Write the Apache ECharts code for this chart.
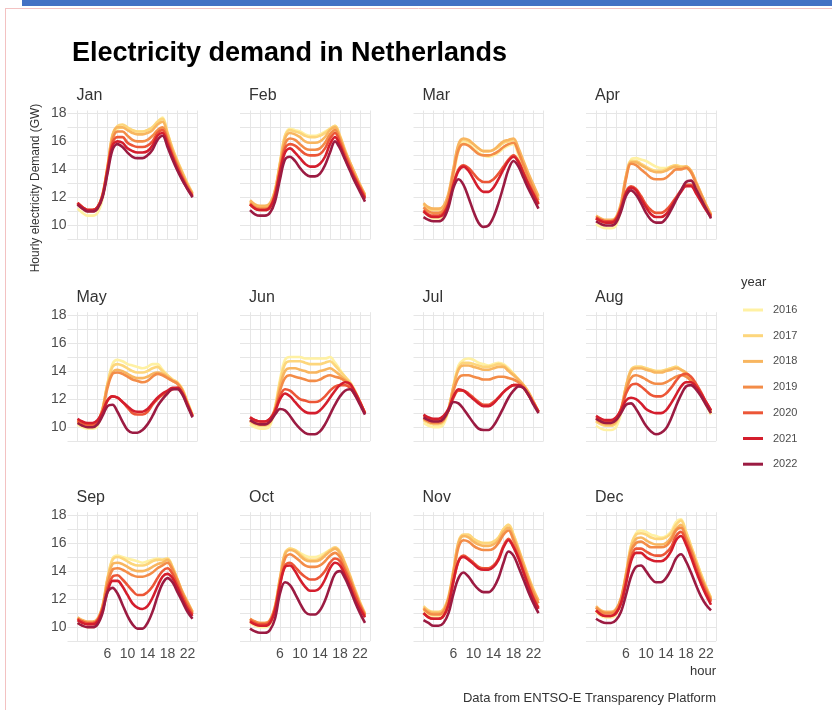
<!DOCTYPE html>
<html>
<head>
<meta charset="utf-8">
<script src="https://cdn.jsdelivr.net/npm/echarts@6/dist/echarts.min.js"></script>
<style>
  html, body { margin: 0; padding: 0; background: #ffffff; }
  #chart { width: 832px; height: 710px; }
</style>
</head>
<body>
<div id="chart"></div>
<script>
// Hourly electricity demand (GW), one row per year 2016..2022, columns = hour 0..23
const hours = [0,1,2,3,4,5,6,7,8,9,10,11,12,13,14,15,16,17,18,19,20,21,22,23];
const years = ['2016','2017','2018','2019','2020','2021','2022'];
const months = ['Jan','Feb','Mar','Apr','May','Jun','Jul','Aug','Sep','Oct','Nov','Dec'];
const hourTicks = [6,10,14,18,22];
const demandTicks = [10,12,14,16,18];

const jan = [
  [11.2,10.9,10.7,10.7,10.9,11.9,14.0,16.3,16.9,17.0,16.9,16.8,16.7,16.7,16.8,17.0,17.4,17.7,16.6,15.5,14.6,13.7,12.9,12.1],
  [11.5,11.2,11.0,11.0,11.2,12.1,14.2,16.5,17.1,17.2,17.0,16.8,16.7,16.7,16.8,17.0,17.4,17.6,16.6,15.5,14.6,13.8,13.0,12.3],
  [11.6,11.3,11.1,11.1,11.3,12.2,14.2,16.4,17.0,17.0,16.8,16.6,16.5,16.5,16.6,16.8,17.2,17.4,16.5,15.4,14.5,13.7,12.9,12.3],
  [11.6,11.3,11.1,11.1,11.3,12.2,14.1,16.1,16.7,16.7,16.4,16.1,16.0,16.0,16.1,16.4,16.8,17.0,16.2,15.2,14.3,13.5,12.8,12.2],
  [11.6,11.3,11.1,11.1,11.3,12.1,14.0,15.9,16.3,16.3,15.9,15.7,15.6,15.6,15.7,16.0,16.6,16.8,16.0,15.0,14.2,13.4,12.7,12.1],
  [11.6,11.3,11.1,11.1,11.3,12.1,13.9,15.7,16.0,15.9,15.5,15.3,15.2,15.2,15.3,15.7,16.4,16.6,15.8,14.9,14.0,13.3,12.6,12.1],
  [11.5,11.2,11.0,11.0,11.2,12.0,13.7,15.4,15.8,15.6,15.2,14.9,14.8,14.8,15.0,15.4,16.1,16.4,15.6,14.7,13.9,13.2,12.6,12.0]
];
const feb = [
  [11.5,11.2,11.1,11.1,11.3,12.3,14.4,16.4,16.9,16.8,16.7,16.5,16.4,16.4,16.5,16.7,16.9,17.1,16.3,15.3,14.4,13.6,12.8,12.0],
  [11.7,11.4,11.3,11.3,11.5,12.5,14.5,16.4,16.8,16.7,16.6,16.4,16.3,16.3,16.4,16.6,16.9,17.1,16.4,15.4,14.5,13.7,12.9,12.2],
  [11.8,11.5,11.4,11.4,11.6,12.5,14.4,16.2,16.6,16.5,16.3,16.0,15.9,15.9,16.0,16.3,16.8,17.0,16.3,15.3,14.5,13.7,12.9,12.2],
  [11.6,11.3,11.2,11.2,11.4,12.3,14.1,15.8,16.2,16.1,15.8,15.5,15.4,15.4,15.5,15.9,16.5,16.8,16.1,15.2,14.3,13.5,12.8,12.1],
  [11.5,11.2,11.1,11.1,11.3,12.2,13.9,15.5,15.8,15.7,15.4,15.1,15.0,15.0,15.1,15.5,16.2,16.6,15.9,15.0,14.2,13.4,12.7,12.0],
  [11.5,11.2,11.1,11.1,11.3,12.1,13.8,15.2,15.5,15.2,14.8,14.4,14.2,14.2,14.4,14.9,15.8,16.3,15.7,14.8,14.0,13.3,12.6,11.9],
  [11.1,10.8,10.7,10.7,10.9,11.7,13.3,14.7,14.9,14.6,14.1,13.7,13.5,13.5,13.7,14.3,15.2,16.0,15.5,14.7,13.9,13.1,12.4,11.7]
];
const mar = [
  [11.0,10.7,10.5,10.5,10.7,11.6,13.5,15.3,15.9,15.8,15.5,15.2,15.0,14.9,15.0,15.2,15.5,15.7,15.8,15.0,14.0,13.1,12.3,11.5],
  [11.5,11.2,11.1,11.1,11.3,12.2,14.0,15.7,16.1,16.0,15.8,15.5,15.3,15.3,15.4,15.6,15.9,16.0,16.1,15.4,14.5,13.6,12.8,12.0],
  [11.6,11.3,11.2,11.2,11.4,12.3,14.1,15.8,16.2,16.1,15.8,15.5,15.3,15.3,15.4,15.7,16.0,16.1,16.2,15.5,14.6,13.7,12.9,12.1],
  [11.3,11.0,10.9,10.9,11.1,12.0,13.8,15.4,15.8,15.7,15.4,15.1,15.0,15.0,15.1,15.3,15.6,15.8,15.9,15.2,14.3,13.4,12.6,11.8],
  [11.1,10.8,10.7,10.7,10.9,11.6,13.0,14.0,14.3,14.1,13.7,13.3,13.1,13.1,13.3,13.7,14.2,14.7,15.0,14.6,13.8,13.0,12.3,11.6],
  [11.0,10.7,10.6,10.6,10.8,11.5,12.9,13.9,14.2,13.9,13.3,12.7,12.4,12.4,12.7,13.3,14.0,14.6,14.9,14.5,13.7,12.9,12.2,11.5],
  [10.6,10.4,10.3,10.3,10.5,11.3,12.7,13.3,12.9,12.0,11.0,10.2,9.9,10.0,10.6,11.6,12.8,14.0,14.6,14.2,13.4,12.6,11.9,11.2]
];
const apr = [
  [10.1,9.9,9.8,9.8,10.0,11.2,13.4,14.7,14.8,14.7,14.6,14.4,14.2,14.1,14.1,14.2,14.3,14.2,14.1,13.8,13.1,12.2,11.4,10.6],
  [10.5,10.3,10.2,10.2,10.4,11.5,13.5,14.6,14.6,14.4,14.2,14.0,13.9,13.9,14.0,14.2,14.3,14.2,14.2,13.9,13.1,12.3,11.5,10.8],
  [10.7,10.5,10.4,10.4,10.6,11.6,13.5,14.5,14.5,14.3,14.1,13.9,13.8,13.8,13.9,14.1,14.2,14.1,14.2,13.9,13.1,12.3,11.5,10.8],
  [10.5,10.3,10.2,10.2,10.4,11.4,13.3,14.4,14.3,14.0,13.7,13.4,13.3,13.3,13.4,13.7,14.0,14.0,14.1,13.8,13.0,12.2,11.4,10.7],
  [10.6,10.4,10.3,10.3,10.5,11.3,12.4,12.8,12.6,12.1,11.5,11.1,10.9,10.9,11.1,11.5,12.0,12.5,12.9,12.9,12.4,11.8,11.2,10.7],
  [10.5,10.3,10.2,10.2,10.4,11.2,12.3,12.7,12.5,11.9,11.3,10.8,10.6,10.6,10.8,11.3,11.9,12.4,12.8,12.8,12.3,11.7,11.1,10.6],
  [10.3,10.1,10.0,10.0,10.2,11.0,12.1,12.5,12.2,11.6,10.9,10.4,10.2,10.2,10.5,11.1,11.8,12.5,13.1,13.2,12.6,11.9,11.2,10.5]
];
const may = [
  [10.2,10.0,9.9,9.9,10.1,11.2,13.1,14.5,14.8,14.7,14.5,14.4,14.3,14.2,14.3,14.5,14.5,14.1,13.7,13.4,13.2,12.7,11.8,10.9],
  [10.4,10.2,10.1,10.1,10.3,11.3,13.1,14.3,14.5,14.4,14.2,14.0,13.9,13.9,14.0,14.2,14.3,14.0,13.7,13.4,13.2,12.7,11.8,10.9],
  [10.5,10.3,10.2,10.2,10.4,11.3,13.0,13.9,14.1,14.0,13.8,13.6,13.5,13.5,13.6,13.8,13.9,13.8,13.6,13.3,13.1,12.6,11.7,10.8],
  [10.4,10.2,10.1,10.1,10.3,11.2,12.8,13.8,13.9,13.8,13.6,13.4,13.3,13.2,13.3,13.6,13.8,13.7,13.5,13.3,13.1,12.6,11.7,10.8],
  [10.5,10.3,10.2,10.2,10.4,11.0,11.9,12.2,12.1,11.8,11.4,11.0,10.9,10.9,11.1,11.6,12.0,12.3,12.5,12.7,12.8,12.4,11.6,10.8],
  [10.6,10.4,10.3,10.3,10.5,11.1,11.9,12.2,12.1,11.8,11.5,11.2,11.1,11.1,11.3,11.7,12.1,12.4,12.6,12.8,12.8,12.4,11.6,10.8],
  [10.3,10.1,10.0,10.0,10.2,10.8,11.5,11.6,11.1,10.4,9.8,9.6,9.6,9.8,10.2,10.8,11.5,12.0,12.4,12.7,12.7,12.3,11.5,10.7]
];
const jun = [
  [10.2,10.0,9.9,9.9,10.1,11.4,13.4,14.8,15.0,15.0,15.0,14.9,14.9,14.9,14.9,14.9,15.0,14.6,14.1,13.6,13.2,12.6,11.8,11.0],
  [10.4,10.2,10.1,10.1,10.3,11.4,13.2,14.5,14.7,14.7,14.7,14.6,14.5,14.5,14.5,14.6,14.7,14.4,14.0,13.6,13.2,12.6,11.8,11.0],
  [10.5,10.3,10.2,10.2,10.4,11.3,12.9,14.0,14.2,14.2,14.1,14.0,13.9,13.9,14.0,14.1,14.2,14.0,13.7,13.4,13.1,12.5,11.8,11.0],
  [10.5,10.3,10.2,10.2,10.4,11.2,12.6,13.5,13.7,13.6,13.5,13.4,13.3,13.3,13.4,13.6,13.7,13.6,13.5,13.3,13.0,12.5,11.8,11.0],
  [10.7,10.5,10.4,10.4,10.6,11.2,12.2,12.7,12.6,12.3,12.0,11.9,11.8,11.8,11.9,12.2,12.6,12.9,13.0,13.0,12.8,12.3,11.7,11.0],
  [10.7,10.5,10.4,10.4,10.6,11.1,12.0,12.4,12.2,11.8,11.4,11.1,11.0,11.0,11.2,11.6,12.1,12.6,13.0,13.2,13.1,12.5,11.8,11.0],
  [10.5,10.3,10.2,10.2,10.4,10.9,11.3,11.2,10.8,10.3,9.9,9.6,9.5,9.5,9.7,10.2,10.9,11.6,12.2,12.6,12.7,12.3,11.6,10.9]
];
const jul = [
  [10.3,10.1,10.0,10.0,10.2,11.2,13.0,14.4,14.8,14.9,14.8,14.6,14.5,14.4,14.5,14.6,14.5,14.2,13.8,13.4,13.0,12.5,11.8,11.1],
  [10.5,10.3,10.2,10.2,10.4,11.3,12.9,14.2,14.6,14.6,14.5,14.4,14.3,14.3,14.4,14.5,14.4,14.1,13.8,13.4,13.0,12.5,11.8,11.1],
  [10.6,10.4,10.3,10.3,10.5,11.3,12.9,14.1,14.4,14.4,14.3,14.2,14.1,14.1,14.2,14.3,14.3,14.0,13.7,13.4,13.0,12.5,11.8,11.1],
  [10.6,10.4,10.3,10.3,10.5,11.2,12.6,13.5,13.7,13.7,13.6,13.5,13.4,13.4,13.5,13.6,13.6,13.5,13.4,13.2,12.9,12.4,11.8,11.1],
  [10.8,10.6,10.5,10.5,10.7,11.2,12.1,12.6,12.6,12.4,12.1,11.8,11.6,11.6,11.8,12.1,12.5,12.8,13.0,13.0,12.8,12.3,11.7,11.1],
  [10.9,10.7,10.6,10.6,10.8,11.3,12.2,12.7,12.6,12.3,12.0,11.7,11.5,11.5,11.7,12.1,12.5,12.8,13.0,13.0,12.8,12.3,11.7,11.1],
  [10.7,10.5,10.4,10.4,10.6,11.2,11.8,11.7,11.3,10.8,10.3,9.9,9.8,9.8,10.1,10.7,11.4,12.1,12.6,12.9,12.8,12.3,11.6,11.0]
];
const aug = [
  [10.1,9.9,9.8,9.8,10.0,11.0,12.8,14.0,14.3,14.3,14.2,14.1,14.0,14.0,14.1,14.2,14.3,14.1,13.8,13.4,12.9,12.3,11.6,10.9],
  [10.4,10.2,10.1,10.1,10.3,11.2,12.9,14.1,14.3,14.3,14.2,14.1,14.0,14.0,14.1,14.2,14.3,14.1,13.8,13.4,13.0,12.4,11.7,11.0],
  [10.5,10.3,10.2,10.2,10.4,11.3,12.9,14.0,14.2,14.2,14.1,14.0,13.9,13.9,14.0,14.1,14.2,14.1,13.9,13.5,13.0,12.4,11.7,11.0],
  [10.6,10.4,10.3,10.3,10.5,11.2,12.6,13.5,13.7,13.6,13.4,13.2,13.1,13.1,13.2,13.4,13.6,13.7,13.6,13.3,12.9,12.4,11.7,11.1],
  [10.7,10.5,10.4,10.4,10.6,11.3,12.4,13.0,13.1,12.9,12.6,12.3,12.2,12.2,12.4,12.8,13.3,13.7,13.8,13.6,13.1,12.5,11.8,11.2],
  [10.8,10.6,10.5,10.5,10.7,11.2,11.9,12.1,12.0,11.7,11.3,11.1,11.0,11.0,11.2,11.7,12.3,12.9,13.2,13.2,12.9,12.4,11.8,11.2],
  [10.6,10.4,10.3,10.3,10.5,11.0,11.6,11.7,11.3,10.7,10.1,9.7,9.5,9.6,9.9,10.6,11.5,12.3,12.9,13.0,12.7,12.2,11.6,11.0]
];
const sep = [
  [10.3,10.1,10.0,10.0,10.2,11.3,13.4,14.9,15.1,15.0,14.9,14.8,14.7,14.6,14.7,14.8,14.9,14.8,14.9,14.3,13.4,12.5,11.8,11.1],
  [10.6,10.4,10.3,10.3,10.5,11.5,13.5,14.8,15.0,14.9,14.7,14.5,14.4,14.4,14.5,14.7,14.8,14.8,14.9,14.3,13.4,12.5,11.8,11.1],
  [10.7,10.5,10.4,10.4,10.6,11.5,13.4,14.5,14.6,14.5,14.3,14.1,14.0,14.0,14.1,14.3,14.5,14.6,14.8,14.2,13.4,12.5,11.8,11.1],
  [10.6,10.4,10.3,10.3,10.5,11.4,13.1,14.1,14.2,14.1,13.9,13.7,13.6,13.6,13.7,13.9,14.2,14.4,14.6,14.1,13.3,12.4,11.7,11.0],
  [10.6,10.4,10.3,10.3,10.5,11.3,12.8,13.6,13.7,13.4,13.0,12.6,12.3,12.3,12.5,12.9,13.5,14.0,14.2,13.8,13.0,12.2,11.5,10.9],
  [10.5,10.3,10.2,10.2,10.4,11.2,12.5,13.3,13.3,12.9,12.3,11.7,11.4,11.3,11.5,12.1,12.9,13.6,13.8,13.5,12.8,12.0,11.3,10.8],
  [10.3,10.1,10.0,10.0,10.2,11.0,12.5,12.8,12.4,11.6,10.8,10.2,9.9,9.9,10.3,11.1,12.2,13.1,13.5,13.2,12.5,11.8,11.1,10.6]
];
const oct = [
  [10.3,10.1,10.0,10.0,10.2,11.2,13.3,15.2,15.6,15.5,15.3,15.1,15.0,15.0,15.1,15.3,15.5,15.6,15.3,14.5,13.6,12.6,11.6,10.8],
  [10.5,10.3,10.2,10.2,10.4,11.4,13.5,15.3,15.6,15.5,15.2,14.9,14.8,14.8,14.9,15.2,15.5,15.7,15.4,14.6,13.7,12.7,11.8,11.0],
  [10.6,10.4,10.3,10.3,10.5,11.5,13.5,15.2,15.5,15.4,15.1,14.8,14.7,14.7,14.8,15.1,15.4,15.6,15.3,14.5,13.6,12.6,11.7,10.9],
  [10.6,10.4,10.3,10.3,10.5,11.4,13.3,14.9,15.2,15.0,14.7,14.4,14.3,14.3,14.4,14.7,15.1,15.3,15.0,14.2,13.4,12.5,11.6,10.9],
  [10.5,10.3,10.2,10.2,10.4,11.3,13.1,14.4,14.6,14.3,13.9,13.6,13.4,13.4,13.6,14.0,14.6,14.9,14.7,14.0,13.2,12.3,11.5,10.8],
  [10.4,10.2,10.1,10.1,10.3,11.2,13.0,14.3,14.4,14.0,13.4,12.9,12.6,12.6,12.8,13.4,14.2,14.6,14.4,13.7,12.9,12.0,11.3,10.7],
  [9.9,9.7,9.6,9.6,9.8,10.6,12.4,13.2,13.0,12.4,11.7,11.1,10.9,10.9,11.2,11.9,12.9,13.8,14.0,13.5,12.7,11.8,11.0,10.3]
];
const nov = [
  [11.2,10.9,10.8,10.8,11.0,11.9,13.8,15.9,16.5,16.5,16.3,16.1,16.0,16.0,16.1,16.4,17.0,17.3,16.6,15.6,14.5,13.5,12.5,11.7],
  [11.5,11.2,11.1,11.1,11.3,12.2,14.1,16.1,16.6,16.6,16.3,16.1,16.0,16.0,16.1,16.4,17.0,17.3,16.6,15.6,14.6,13.6,12.7,11.9],
  [11.4,11.1,11.0,11.0,11.2,12.1,14.0,16.0,16.5,16.4,16.1,15.9,15.8,15.8,15.9,16.2,16.8,17.1,16.4,15.5,14.5,13.5,12.6,11.9],
  [11.3,11.0,10.9,10.9,11.1,12.0,13.8,15.7,16.2,16.1,15.8,15.6,15.5,15.5,15.6,16.0,16.6,16.9,16.2,15.3,14.3,13.3,12.4,11.7],
  [11.0,10.7,10.6,10.6,10.8,11.6,13.3,14.7,15.1,14.9,14.6,14.3,14.2,14.2,14.4,14.9,15.8,16.3,15.8,15.0,14.0,13.0,12.1,11.4],
  [11.0,10.7,10.6,10.6,10.8,11.6,13.3,14.7,15.0,14.8,14.5,14.2,14.1,14.1,14.3,14.8,15.7,16.2,15.7,14.9,13.9,12.9,12.0,11.3],
  [10.5,10.3,10.1,10.1,10.3,11.0,12.4,13.5,13.9,13.6,13.1,12.7,12.5,12.5,12.8,13.5,14.6,15.4,15.1,14.3,13.4,12.5,11.7,11.0]
];
const dec = [
  [11.1,10.8,10.7,10.7,10.9,11.8,13.6,15.8,16.7,16.9,16.8,16.6,16.5,16.4,16.5,16.8,17.5,17.7,16.8,15.8,14.8,13.8,12.9,12.1],
  [11.4,11.1,11.0,11.0,11.2,12.0,13.8,15.8,16.6,16.7,16.6,16.4,16.3,16.3,16.4,16.7,17.3,17.6,16.8,15.8,14.8,13.8,12.9,12.1],
  [11.5,11.2,11.1,11.1,11.3,12.1,13.8,15.6,16.3,16.4,16.2,16.0,15.9,15.9,16.0,16.4,17.0,17.3,16.5,15.6,14.6,13.6,12.8,12.0],
  [11.4,11.1,11.0,11.0,11.2,12.0,13.6,15.4,16.0,16.1,15.9,15.7,15.7,15.7,15.8,16.2,16.9,17.1,16.4,15.5,14.5,13.5,12.7,11.9],
  [11.2,10.9,10.8,10.8,11.0,11.7,13.2,14.9,15.6,15.6,15.4,15.2,15.1,15.1,15.3,15.7,16.5,16.8,16.1,15.2,14.2,13.3,12.5,11.8],
  [11.2,10.9,10.8,10.8,11.0,11.7,13.1,14.7,15.3,15.3,15.0,14.8,14.7,14.7,14.9,15.4,16.2,16.5,15.9,15.0,14.0,13.1,12.3,11.6],
  [10.6,10.4,10.3,10.3,10.5,11.1,12.3,13.6,14.3,14.4,14.0,13.5,13.2,13.2,13.5,14.1,14.9,15.2,14.7,13.9,13.0,12.2,11.6,11.2]
];

const demandByMonth = [jan, feb, mar, apr, may, jun, jul, aug, sep, oct, nov, dec];
const yearColors = ['#FFF1A3', '#FDD67C', '#F8B660', '#F38C48', '#EC5637', '#D41E2D', '#9B1B42'];

const FONT = "'Liberation Sans', Arial, Helvetica, sans-serif";
// panel placement: hour 0 sits 10px right of each panel's left edge (x range -2..24, 5px per hour)
const colLeft = [67.5, 240, 413.5, 586];
const rowTop = [110.5, 312.2, 512.2];
const panelW = 130, panelH = 129;
const gridColor = '#e6e6e6';

const grids = [], xAxes = [], yAxes = [], series = [], panelLabels = [];

months.forEach((m, i) => {
  const r = Math.floor(i / 4), c = i % 4;
  grids.push({ left: colLeft[c], top: rowTop[r], width: panelW, height: panelH });
  xAxes.push({
    type: 'value', gridIndex: i, min: -2, max: 24, interval: 2,
    axisLine: { show: false }, axisTick: { show: false },
    axisLabel: {
      show: r === 2, margin: 6, color: '#4d4d4d', fontSize: 14, fontFamily: FONT,
      formatter: v => hourTicks.includes(v) ? String(v) : ''
    },
    splitLine: { show: true, showMinLine: false, lineStyle: { color: gridColor, width: 1 } }
  });
  yAxes.push({
    type: 'value', gridIndex: i, min: 9, max: 18.2, interval: 1,
    axisLine: { show: false }, axisTick: { show: false },
    axisLabel: {
      show: c === 0, margin: 1, color: '#4d4d4d', fontSize: 14, fontFamily: FONT,
      formatter: v => demandTicks.includes(v) ? String(v) : ''
    },
    splitLine: { show: true, showMaxLine: false, lineStyle: { color: gridColor, width: 1 } }
  });
  years.forEach((y, k) => {
    series.push({
      type: 'line', name: y, xAxisIndex: i, yAxisIndex: i,
      data: hours.map((h, j) => [h, demandByMonth[i][k][j]]),
      showSymbol: false, smooth: 0.35, color: yearColors[k],
      lineStyle: { width: 2.6, color: yearColors[k] },
      z: 2 + k, silent: true
    });
  });
  panelLabels.push({
    type: 'text', left: colLeft[c] + 9, top: rowTop[r] - 23,
    style: { text: m, font: '16px ' + FONT, fill: '#333333' }
  });
});

const chart = echarts.init(document.getElementById('chart'), null, { renderer: 'canvas' });
chart.setOption({
  animation: false,
  backgroundColor: '#ffffff',
  grid: grids,
  xAxis: xAxes,
  yAxis: yAxes,
  series: series,
  legend: {
    data: years, orient: 'vertical', left: 743, top: 303, padding: 0,
    itemWidth: 20, itemHeight: 3, itemGap: 11.7, icon: 'rect',
    selectedMode: false,
    textStyle: { fontSize: 11, color: '#4d4d4d', fontFamily: FONT, lineHeight: 14, padding: [0, 0, 0, 5] }
  },
  graphic: [
    { type: 'rect', left: 22, top: 0, shape: { width: 810, height: 6 }, style: { fill: '#4472C4' } },
    { type: 'line', shape: { x1: 5, y1: 8.5, x2: 832, y2: 8.5 }, style: { stroke: '#f3c2c2', lineWidth: 1 } },
    { type: 'line', shape: { x1: 5.5, y1: 8, x2: 5.5, y2: 710 }, style: { stroke: '#f3c2c2', lineWidth: 1 } },
    { type: 'text', left: 72, top: 40, style: { text: 'Electricity demand in Netherlands', font: 'bold 27px ' + FONT, fill: '#000000' } },
    { type: 'text', x: 36, y: 188, rotation: Math.PI / 2,
      style: { text: 'Hourly electricity Demand (GW)', font: '12px ' + FONT, fill: '#333333', align: 'center', verticalAlign: 'middle' } },
    { type: 'text', left: 741, top: 276, style: { text: 'year', font: '13px ' + FONT, fill: '#333333' } },
    { type: 'text', x: 716, y: 671, style: { text: 'hour', font: '13px ' + FONT, fill: '#333333', align: 'right', verticalAlign: 'middle' } },
    { type: 'text', x: 716, y: 698, style: { text: 'Data from ENTSO-E Transparency Platform', font: '13px ' + FONT, fill: '#333333', align: 'right', verticalAlign: 'middle' } }
  ].concat(panelLabels)
});
</script>
</body>
</html>
